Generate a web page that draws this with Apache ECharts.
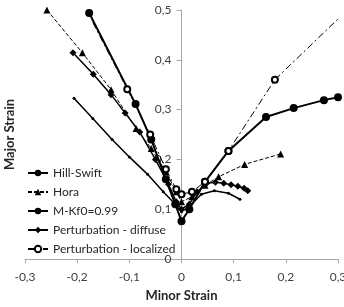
<!DOCTYPE html>
<html>
<head>
<meta charset="utf-8">
<script src="https://cdn.jsdelivr.net/npm/echarts@6/dist/echarts.min.js"></script>
<style>
  html, body { margin: 0; padding: 0; background: #fff; }
  #chart { width: 344px; height: 307px; }
</style>
</head>
<body>
<div id="chart"></div>
<script>
const xTicks = [-0.3, 0.3, 0.1]
const yTicks = [0, 0.5, 0.1]

const hillSwift = [
  [-0.206, 0.323], [-0.17, 0.282], [-0.133, 0.24], [-0.1, 0.205], [-0.065, 0.17],
  [-0.035, 0.135], [-0.012, 0.11], [0, 0.095], [0.015, 0.105], [0.038, 0.13],
  [0.063, 0.137], [0.09, 0.132], [0.112, 0.12]
]
const hora = [
  [-0.258, 0.5], [-0.19, 0.414], [-0.135, 0.34], [-0.087, 0.262], [-0.058, 0.222],
  [-0.03, 0.175], [-0.01, 0.135], [0, 0.115], [0.02, 0.125], [0.045, 0.148],
  [0.071, 0.165], [0.121, 0.19], [0.19, 0.211]
]
const mk = [
  [-0.177, 0.494], [-0.088, 0.311], [-0.058, 0.24], [-0.03, 0.16], [-0.012, 0.11],
  [0, 0.076], [0.015, 0.1], [0.045, 0.155], [0.09, 0.217], [0.162, 0.285],
  [0.215, 0.303], [0.273, 0.319], [0.3, 0.325]
]
const diffuse = [
  [-0.208, 0.414], [-0.169, 0.371], [-0.135, 0.33], [-0.108, 0.293], [-0.08, 0.255],
  [-0.05, 0.2], [-0.025, 0.15], [-0.01, 0.115], [0, 0.1], [0.015, 0.11],
  [0.03, 0.135], [0.048, 0.152], [0.065, 0.154], [0.081, 0.152], [0.095, 0.149],
  [0.108, 0.146], [0.12, 0.142], [0.127, 0.137]
]
const localized = [
  [-0.17, 0.475], [-0.104, 0.341], [-0.06, 0.25], [-0.03, 0.18], [-0.01, 0.14],
  [0, 0.13], [0.02, 0.135], [0.045, 0.155], [0.09, 0.217], [0.179, 0.36], [0.3, 0.482]
]

const fmt = v => v === 0 ? '0' : v.toFixed(1).replace('.', ',')
const font = 'Lato'

// the end points of the localized curve run off the plot without a marker
const localizedData = localized.map((p, i) =>
  (i === 0 || i === localized.length - 1) ? { value: p, symbol: 'none' } : p)

let chart = echarts.init(document.getElementById('chart'))
chart.setOption({
  animation: false,
  textStyle: { fontFamily: font },
  legend: {
    orient: 'vertical',
    left: 22,
    top: 161,
    itemGap: 5,
    itemWidth: 20,
    itemHeight: 8,
    textStyle: { fontSize: 12, color: '#262626', fontFamily: font, lineHeight: 14 },
    data: ['Hill-Swift', 'Hora', 'M-Kf0=0.99', 'Perturbation - diffuse', 'Perturbation - localized']
  },
  grid: { left: 25, right: 6, top: 10, bottom: 48, containLabel: false, outerBoundsMode: 'none' },
  xAxis: {
    type: 'value',
    min: xTicks[0],
    max: xTicks[1],
    interval: xTicks[2],
    name: 'Minor Strain',
    nameLocation: 'middle',
    nameGap: 30,
    nameTextStyle: { fontWeight: 'bold', fontSize: 13, color: '#262626', fontFamily: font },
    axisLine: { onZero: false, lineStyle: { color: '#a6a6a6' } },
    axisTick: { length: 4, lineStyle: { color: '#a6a6a6' } },
    axisLabel: { formatter: fmt, fontSize: 12, color: '#404040', margin: 12 },
    splitLine: { show: false }
  },
  yAxis: {
    type: 'value',
    min: yTicks[0],
    max: yTicks[1],
    interval: yTicks[2],
    offset: -156.5,
    name: 'Major Strain',
    nameLocation: 'middle',
    nameGap: 165,
    nameTextStyle: { fontWeight: 'bold', fontSize: 13, color: '#262626', fontFamily: font },
    axisLine: { show: true, onZero: false, lineStyle: { color: '#a6a6a6' } },
    axisTick: { show: true, length: 5, lineStyle: { color: '#a6a6a6' } },
    axisLabel: { formatter: fmt, fontSize: 12, color: '#404040', margin: 10 },
    splitLine: { show: false }
  },
  series: [
    {
      name: 'Hill-Swift', type: 'line', data: hillSwift,
      symbol: 'circle', symbolSize: 3,
      lineStyle: { color: '#000', width: 1.5 },
      itemStyle: { color: '#000' }
    },
    {
      name: 'Hora', type: 'line', data: hora,
      symbol: 'triangle', symbolSize: 7,
      lineStyle: { color: '#000', width: 1, type: [4, 2] },
      itemStyle: { color: '#000' }
    },
    {
      name: 'M-Kf0=0.99', type: 'line', data: mk,
      symbol: 'circle', symbolSize: 8,
      lineStyle: { color: '#000', width: 2 },
      itemStyle: { color: '#000' }
    },
    {
      name: 'Perturbation - diffuse', type: 'line', data: diffuse,
      symbol: 'diamond', symbolSize: 7,
      lineStyle: { color: '#000', width: 1.5 },
      itemStyle: { color: '#000' }
    },
    {
      name: 'Perturbation - localized', type: 'line', data: localizedData,
      symbol: 'emptyCircle',
      symbolSize: 6,
      lineStyle: { color: '#000', width: 1, type: [7, 3, 2, 3] },
      itemStyle: { color: '#000' }
    }
  ]
})
</script>
</body>
</html>
